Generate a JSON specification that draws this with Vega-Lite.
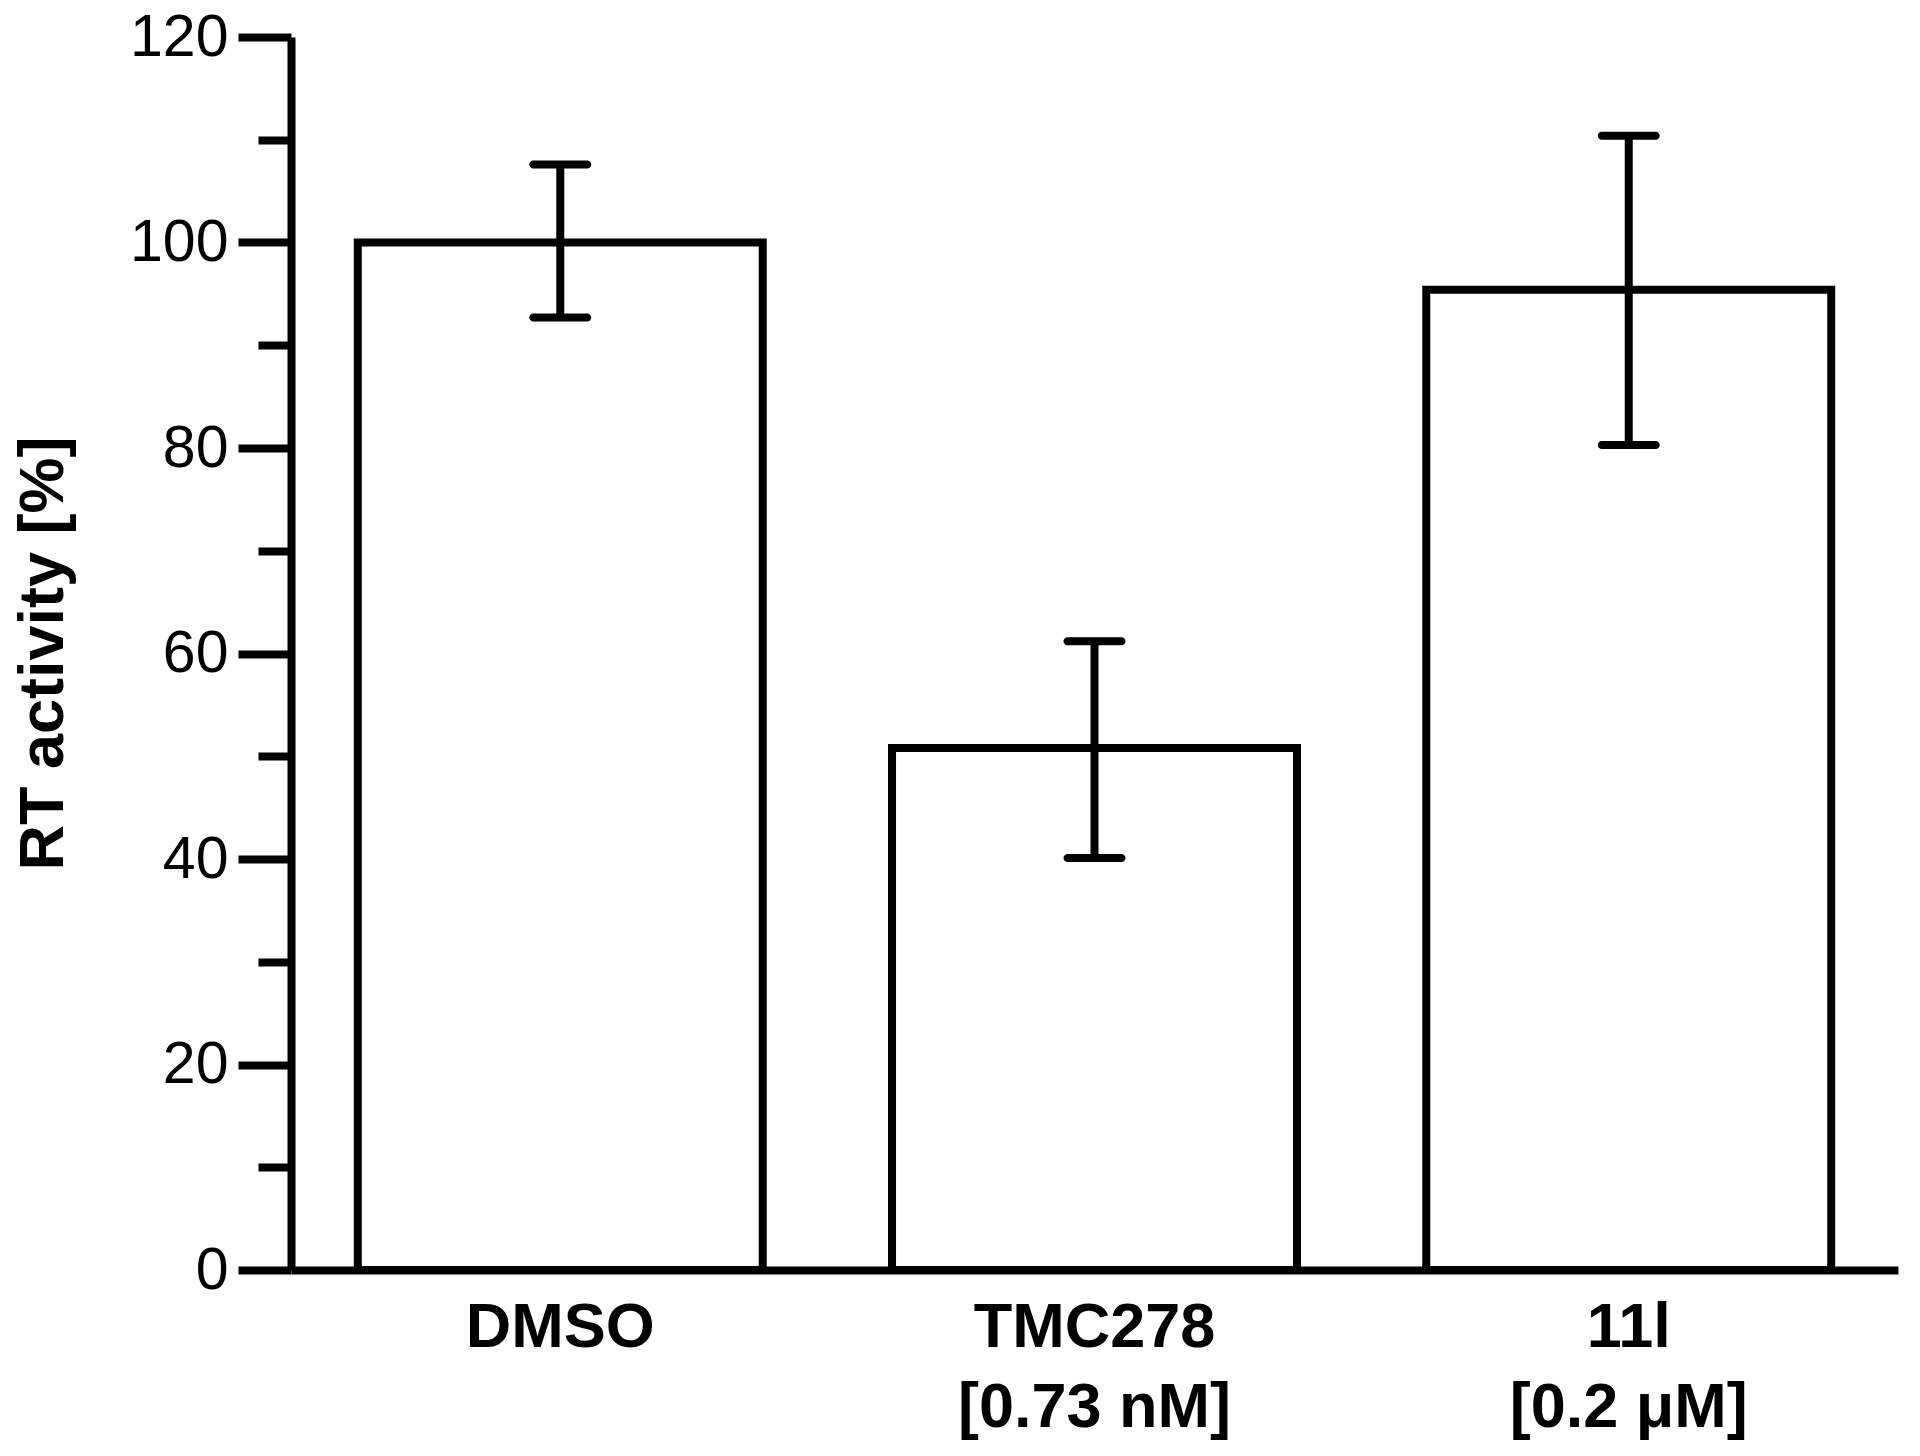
{
  "$schema": "https://vega.github.io/schema/vega-lite/v6.json",
  "autosize": "none",
  "width": 1607,
  "height": 1233,
  "padding": {"left": 291, "top": 37, "right": 22, "bottom": 186},
  "background": "white",
  "config": {"view": {"stroke": null}, "font": "Liberation Sans"},
  "data": {"values": [
    {"group": "DMSO", "activity": 100, "low": 92.7, "high": 107.6},
    {"group": "TMC278|[0.73 nM]", "activity": 50.8, "low": 40.1, "high": 61.2},
    {"group": "11l|[0.2 μM]", "activity": 95.4, "low": 80.3, "high": 110.4}
  ]},
  "encoding": {
    "x": {
      "field": "group", "type": "nominal", "sort": null,
      "scale": {"paddingInner": 0.242, "paddingOuter": 0.125},
      "axis": {
        "title": null, "labelAngle": 0, "ticks": false,
        "domainColor": "black", "domainWidth": 8,
        "labelExpr": "split(datum.value, '|')",
        "labelFont": "Liberation Sans", "labelFontSize": 63, "labelFontWeight": "bold",
        "labelColor": "black", "labelLineHeight": 80, "labelPadding": 26, "labelBaseline": "top",
        "labelLimit": 0
      }
    }
  },
  "layer": [
    {
      "mark": {"type": "bar", "fill": "white", "stroke": "black", "strokeWidth": 8},
      "encoding": {
        "y": {
          "field": "activity", "type": "quantitative",
          "scale": {"domain": [0, 120], "nice": false},
          "axis": {
            "title": "RT activity [%]",
            "values": [0, 10, 20, 30, 40, 50, 60, 70, 80, 90, 100, 110, 120],
            "grid": false,
            "domainColor": "black", "domainWidth": 8,
            "tickColor": "black", "tickWidth": 8,
            "tickSize": {"condition": {"test": "datum.value % 20 === 0", "value": 53}, "value": 33},
            "labelExpr": "datum.value % 20 === 0 ? datum.label : ''",
            "labelFont": "Liberation Sans", "labelFontSize": 59, "labelColor": "black",
            "labelPadding": 10,
            "titleFont": "Liberation Sans", "titleFontSize": 63, "titleFontWeight": "bold",
            "titleColor": "black", "titleAngle": 270, "titleAlign": "center", "titleBaseline": "middle",
            "titleX": -248, "titleY": 616
          }
        }
      }
    },
    {
      "mark": {"type": "rule", "color": "black", "strokeWidth": 8},
      "encoding": {
        "y": {"field": "low", "type": "quantitative"},
        "y2": {"field": "high"}
      }
    },
    {
      "mark": {"type": "tick", "color": "black", "opacity": 1, "size": 62, "thickness": 8, "orient": "horizontal", "cornerRadius": 4},
      "encoding": {"y": {"field": "low", "type": "quantitative"}}
    },
    {
      "mark": {"type": "tick", "color": "black", "opacity": 1, "size": 62, "thickness": 8, "orient": "horizontal", "cornerRadius": 4},
      "encoding": {"y": {"field": "high", "type": "quantitative"}}
    }
  ]
}
